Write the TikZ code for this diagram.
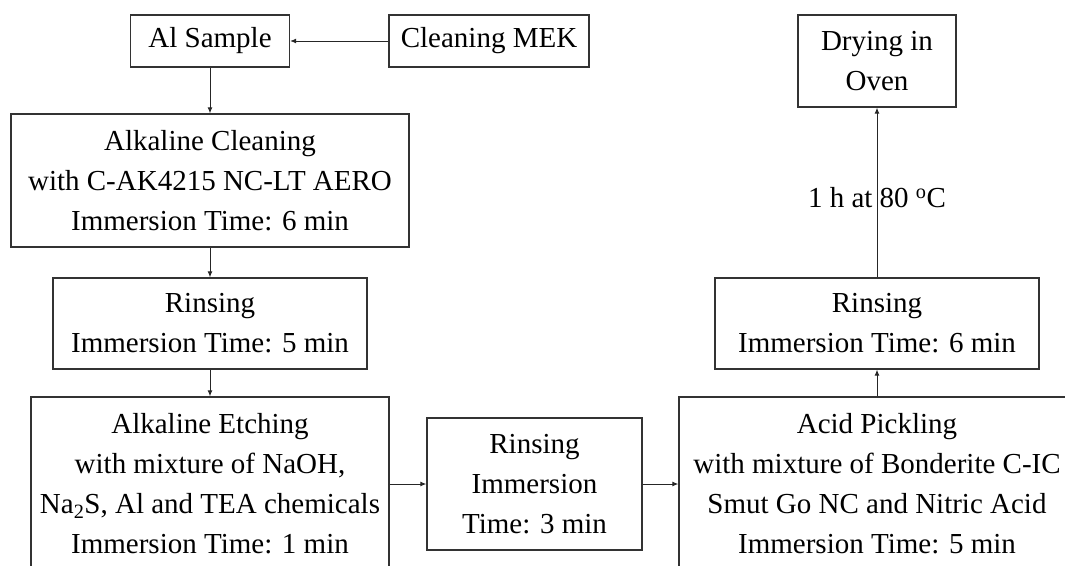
\documentclass[tikz,border=0pt]{standalone}
\usepackage{fontspec}
\setmainfont{Liberation Serif}
\usepackage{tikz}
\usetikzlibrary{arrows.meta,positioning}

\begin{document}
\begin{tikzpicture}[x=1pt,y=-1pt]
\tikzstyle{stepbox}=[draw=black!80,line width=1.3pt,align=center,inner sep=0pt,font=\fontsize{29}{40}\selectfont]
\tikzstyle{arrow}=[line width=1pt,draw=black!85,-{Latex[length=6pt,width=5pt]}]
\useasboundingbox (0,0) rectangle (1065,565);
\node [stepbox,minimum width=159,minimum height=52] at (210,41) (alsample) {Al Sample};
\node [stepbox,minimum width=200,minimum height=52] at (489,41) (mek) {Cleaning MEK};
\node [stepbox,minimum width=398,minimum height=133] at (210,180.5) (clean) {Alkaline Cleaning\\with C-AK4215 NC-LT AERO\\Immersion Time: 6 min};
\node [stepbox,minimum width=314,minimum height=91] at (210,323.5) (rinse1) {Rinsing\\Immersion Time: 5 min};
\node [stepbox,minimum width=358,minimum height=174] at (210,484) (etch) {Alkaline Etching\\with mixture of NaOH,\\Na\textsubscript{2}S, Al and TEA chemicals\\Immersion Time: 1 min};
\node [stepbox,minimum width=215,minimum height=132] at (534.5,484) (rinse2) {Rinsing\\Immersion\\Time: 3 min};
\node [stepbox,minimum width=396,minimum height=174] at (877,484) (pickle) {Acid Pickling\\with mixture of Bonderite C-IC\\Smut Go NC and Nitric Acid\\Immersion Time: 5 min};
\node [stepbox,minimum width=324,minimum height=91] at (877,323.5) (rinse3) {Rinsing\\Immersion Time: 6 min};
\node [stepbox,minimum width=158,minimum height=92] at (877,61) (dry) {Drying in\\Oven};
\draw [arrow] (mek) -- (alsample);
\draw [arrow] (alsample) -- (clean);
\draw [arrow] (clean) -- (rinse1);
\draw [arrow] (rinse1) -- (etch);
\draw [arrow] (etch) -- (rinse2);
\draw [arrow] (rinse2) -- (pickle);
\draw [arrow] (pickle) -- (rinse3);
\draw [arrow] (rinse3) -- node[pos=0.47,inner sep=0pt,font=\fontsize{29}{40}\selectfont] (dlabel) {1 h at 80 \textsuperscript{o}C} (dry);
\end{tikzpicture}
\end{document}
